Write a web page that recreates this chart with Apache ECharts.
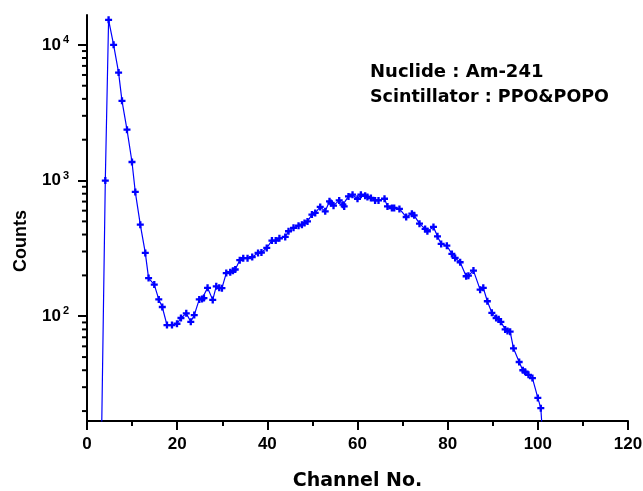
<!DOCTYPE html>
<html>
<head>
<meta charset="utf-8">
<script src="https://cdn.jsdelivr.net/npm/echarts@6/dist/echarts.min.js"></script>
<style>
  html, body { margin: 0; padding: 0; background: #fff; }
  #chart { width: 643px; height: 491px; }
</style>
</head>
<body>
<div id="chart"></div>
<script>
// channel positions
var channels = [2.95, 4.06, 4.79, 5.90, 7.01, 7.76, 8.87, 9.98, 10.71, 11.82,
  12.93, 13.66, 14.92, 15.92, 16.70, 17.74, 18.85, 19.96, 20.84, 22.02,
  23.02, 23.79, 24.90, 25.50, 25.94, 26.74, 27.89, 28.67, 29.33, 29.93,
  30.89, 31.77, 32.37, 32.88, 33.88, 34.66, 35.61, 36.65, 37.94, 38.69,
  39.87, 41.02, 41.86, 42.68, 43.97, 44.70, 45.81, 46.92, 47.67, 48.25,
  48.91, 49.89, 50.62, 51.73, 52.84, 53.79, 54.10, 54.68, 55.94, 56.76,
  57.05, 58.00, 58.90, 60.00, 60.75, 61.70, 62.20, 62.97, 63.90, 64.66,
  65.99, 66.65, 67.63, 68.14, 69.30, 70.80, 72.06, 72.57, 73.75, 75.00,
  75.50, 76.85, 77.74, 78.56, 79.82, 80.93, 81.66, 82.77, 84.10, 84.60,
  85.72, 87.20, 87.90, 88.80, 89.80, 90.75, 91.30, 91.80, 92.75, 93.27,
  93.86, 94.60, 95.86, 96.67, 97.18, 97.92, 98.80, 100.00, 100.66, 101.30]
// counts at those channels
var counts = [3, 1000, 15300, 10000, 6250, 3870, 2370, 1370, 824, 473,
  293, 191, 171, 133, 117, 86, 86, 88, 97, 105,
  91, 102, 133, 134, 136, 162, 132, 166, 162, 161,
  208, 211, 216, 221, 259, 268, 268, 273, 293, 295,
  319, 361, 361, 375, 384, 423, 448, 465, 473, 487,
  500, 561, 577, 639, 593, 703, 683, 653, 714, 664,
  645, 764, 787, 734, 787, 773, 757, 744, 714, 714,
  734, 645, 628, 628, 618, 539, 570, 554, 481, 440,
  423, 455, 388, 341, 331, 288, 269, 250, 197, 199,
  217, 157, 162, 129, 106, 97, 95, 91, 80, 78,
  77, 58, 46, 40, 39, 37, 35, 25, 21, 10]

var xTicks = [0, 20, 40, 60, 80, 100, 120]
var yMajor = [100, 1000, 10000]
var yMinor = [20, 30, 40, 50, 60, 70, 80, 90,
  200, 300, 400, 500, 600, 700, 800, 900,
  2000, 3000, 4000, 5000, 6000, 7000, 8000, 9000]

var yMin = 16.9
var yMax = 16600

var chart = echarts.init(document.getElementById('chart'))

var points = channels.map(function (c, i) { return [c, counts[i]] })
var minorTickData = yMinor.map(function (v) { return [xTicks[0], v] })

var option = {
  backgroundColor: '#fff',
  animation: false,
  grid: {
    left: 87,
    right: 15,
    top: 15,
    bottom: 70,
    outerBoundsMode: 'none'
  },
  xAxis: {
    type: 'value',
    min: xTicks[0],
    max: xTicks[xTicks.length - 1],
    interval: 20,
    name: 'Channel No.',
    nameLocation: 'middle',
    nameGap: 51,
    nameTextStyle: {
      color: '#000',
      fontFamily: 'DejaVu Sans',
      fontWeight: 'bold',
      fontSize: 19
    },
    axisLine: { lineStyle: { color: '#000', width: 2 } },
    axisTick: { length: 9, lineStyle: { color: '#000', width: 2 } },
    minorTick: { show: true, splitNumber: 2, length: 5, lineStyle: { color: '#000', width: 2 } },
    splitLine: { show: false },
    axisLabel: {
      color: '#000',
      fontFamily: 'Liberation Sans',
      fontWeight: 'bold',
      fontSize: 17,
      margin: 15
    }
  },
  yAxis: {
    type: 'log',
    logBase: 10,
    min: yMin,
    max: yMax,
    axisLine: { show: true, lineStyle: { color: '#000', width: 2 } },
    axisTick: { length: 9, customValues: yMajor, lineStyle: { color: '#000', width: 2 } },
    splitLine: { show: false },
    axisLabel: {
      customValues: yMajor,
      margin: 18,
      formatter: function (v) {
        return '{b|10}{s|' + Math.round(Math.log10(v)) + '}'
      },
      rich: {
        b: { color: '#000', fontFamily: 'Liberation Sans', fontWeight: 'bold', fontSize: 17 },
        s: { color: '#000', fontFamily: 'Liberation Sans', fontWeight: 'bold', fontSize: 11, padding: [0, 0, 10, 2] }
      }
    }
  },
  graphic: [
    {
      type: 'text',
      x: 370,
      y: 72,
      style: {
        text: 'Nuclide : Am-241',
        fill: '#000',
        font: 'bold 18px "DejaVu Sans"',
        verticalAlign: 'middle'
      }
    },
    {
      type: 'text',
      x: 370,
      y: 97,
      style: {
        text: 'Scintillator : PPO&POPO',
        fill: '#000',
        font: 'bold 17.5px "DejaVu Sans"',
        verticalAlign: 'middle'
      }
    },
    {
      type: 'text',
      x: 21,
      y: 241,
      rotation: Math.PI / 2,
      style: {
        text: 'Counts',
        fill: '#000',
        font: 'bold 18px "Liberation Sans"',
        align: 'center',
        verticalAlign: 'middle'
      }
    }
  ],
  series: [
    {
      type: 'line',
      data: points,
      symbol: 'path://M2,0H4V2H6V4H4V6H2V4H0V2H2Z',
      symbolSize: 7,
      showAllSymbol: true,
      lineStyle: { color: '#0000ff', width: 1.2 },
      itemStyle: { color: '#0000ff' },
      clip: true
    },
    {
      // minor ticks of the log axis (2..9 x 10^n), placed through the axis scale
      type: 'custom',
      data: minorTickData,
      clip: false,
      silent: true,
      z: 10,
      renderItem: function (params, api) {
        var p = api.coord([api.value(0), api.value(1)])
        return {
          type: 'line',
          shape: { x1: p[0] - 5, y1: p[1], x2: p[0], y2: p[1] },
          style: { stroke: '#000', lineWidth: 2 }
        }
      }
    }
  ]
}

chart.setOption(option)
</script>
</body>
</html>
